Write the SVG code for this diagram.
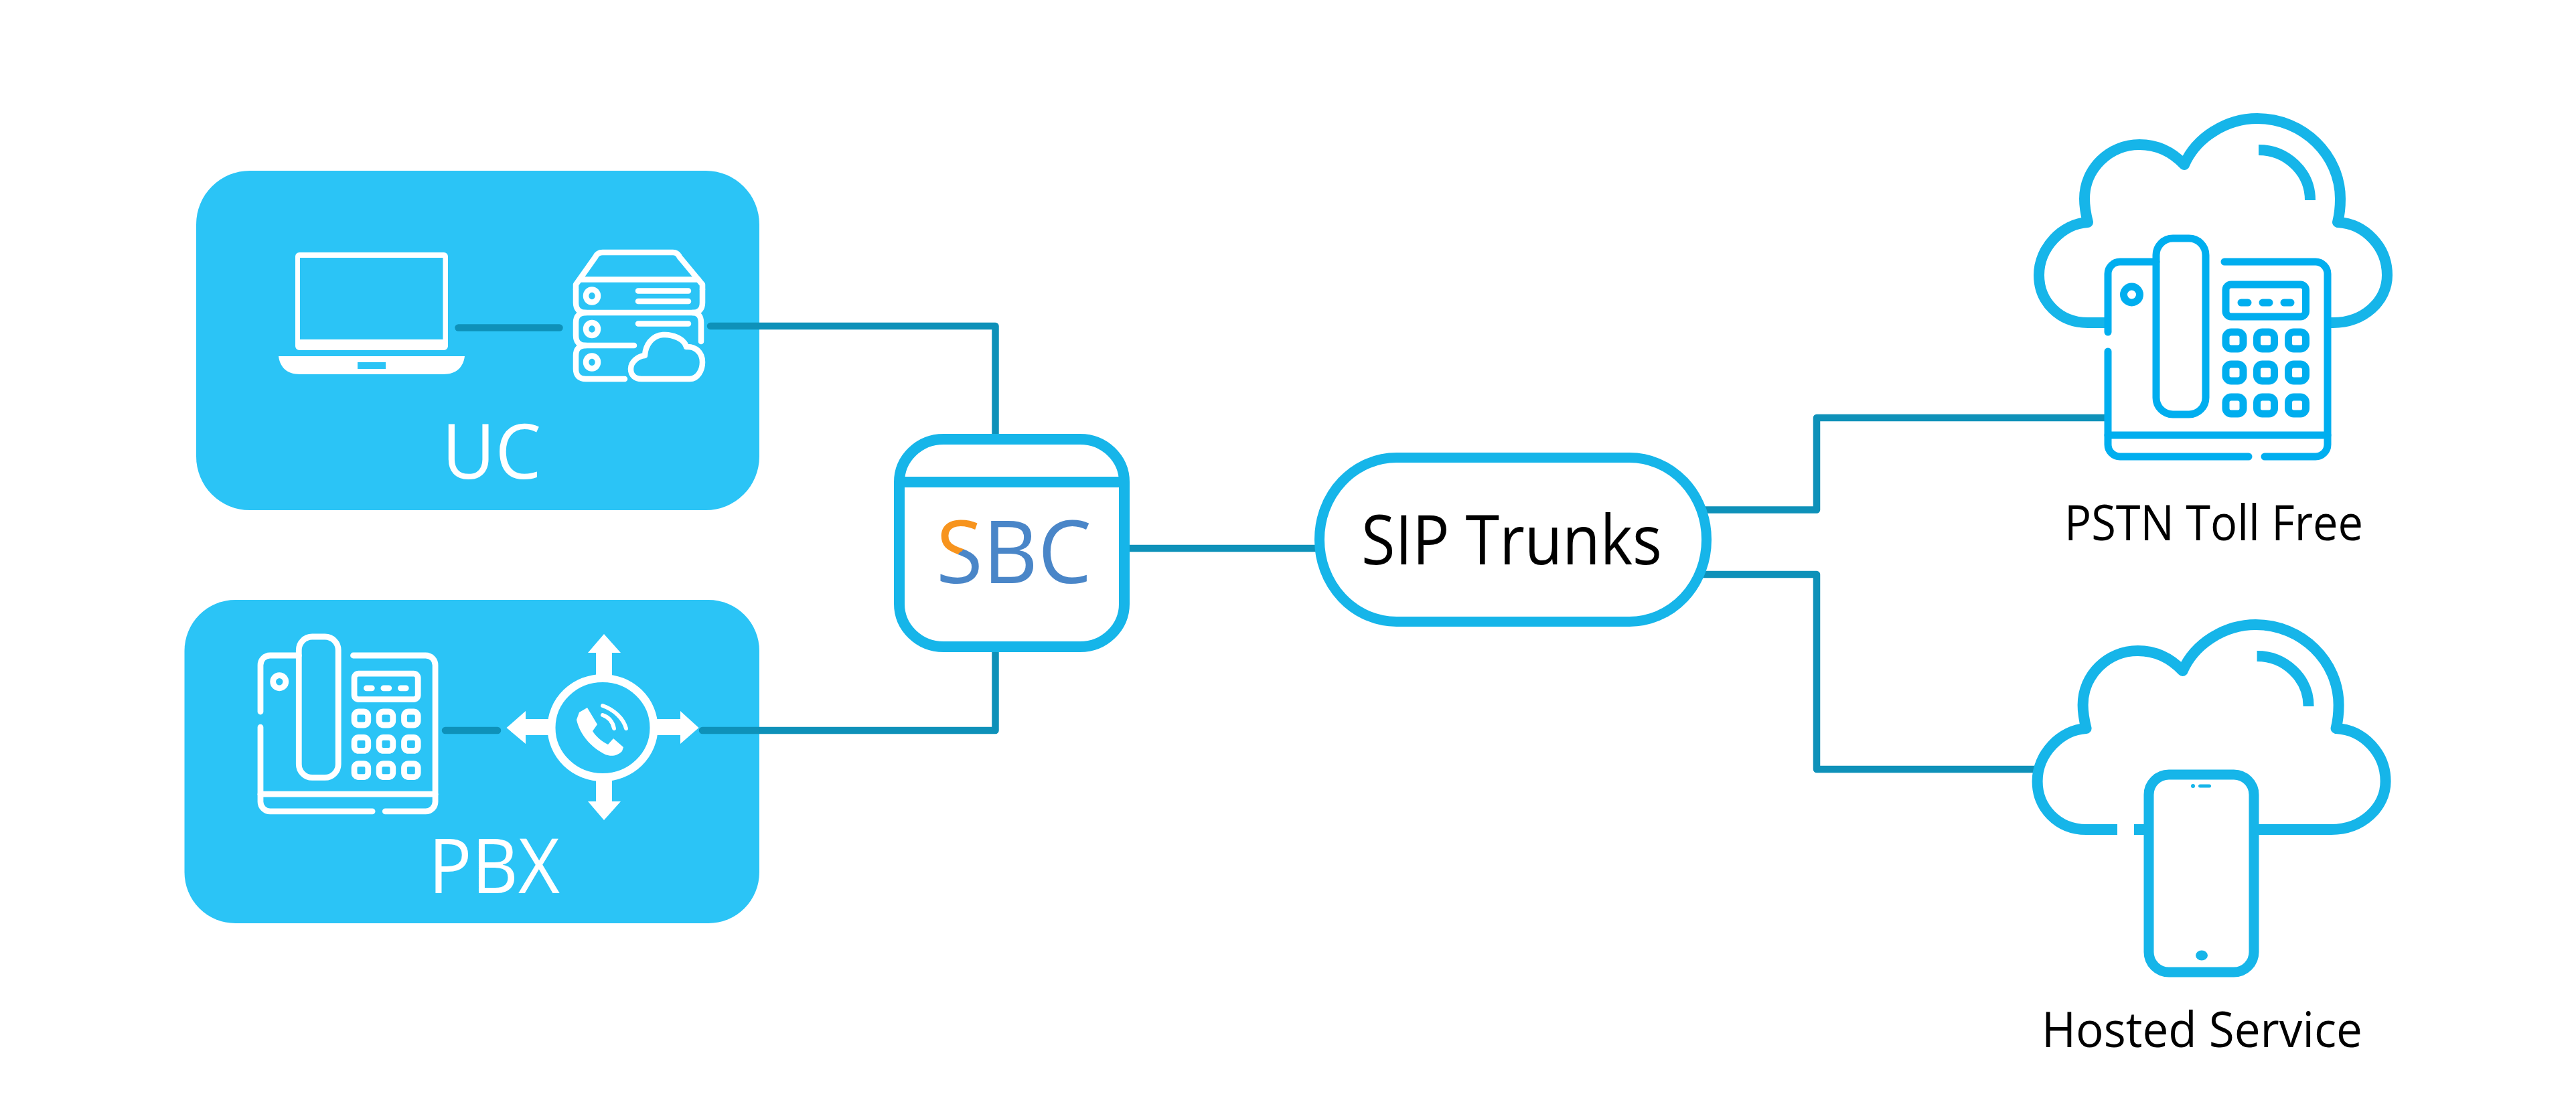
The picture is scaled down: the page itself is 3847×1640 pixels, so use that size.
<svg xmlns="http://www.w3.org/2000/svg" xmlns:xlink="http://www.w3.org/1999/xlink" width="3847" height="1640" viewBox="0 0 3847 1640">
<style>
text{font-family:"Open Sans","Liberation Sans",sans-serif;text-anchor:start}
.box{fill:#2bc4f6}
.wline{fill:none;stroke:#fff;stroke-width:8.500;stroke-linecap:round;stroke-linejoin:round}
.conn{fill:none;stroke:#0e91b9;stroke-width:10.500;stroke-linejoin:round;stroke-linecap:round}
.cloud{fill:none;stroke:#16b5e9;stroke-width:16;stroke-linejoin:round}
.lbl-w{fill:#fff;font-size:113px;font-weight:400}
.lbl-k{fill:#000;font-size:74px}
.dk{fill:#fff;stroke:#16b5e9;stroke-width:16}
</style>
<defs>
<linearGradient id="sgrad" gradientUnits="userSpaceOnUse" x1="1414" y1="800" x2="1456" y2="848">
<stop offset="0.5" stop-color="#f7941e"/><stop offset="0.5" stop-color="#4a86c8"/>
</linearGradient>
<g id="deskphone" fill="none" stroke-linecap="round" stroke-linejoin="round">
<path d="M3220 391H3166a18 18 0 0 0-18 18V496M3148 525V664a18 18 0 0 0 18 18H3358M3382 682H3458a18 18 0 0 0 18-18V409a18 18 0 0 0-18-18H3322"/>
<path d="M3148 650H3476"/>
<rect x="3220" y="356" width="74" height="263" rx="25"/>
<circle cx="3183.500" cy="440" r="12"/>
<rect x="3324" y="425" width="119.500" height="48" rx="8"/>
<path d="M3347 452H3357M3379 452H3389M3411 452H3421"/>
<rect x="3324" y="496" width="26" height="25" rx="8"/><rect x="3370.500" y="496" width="26" height="25" rx="8"/><rect x="3417.500" y="496" width="26" height="25" rx="8"/>
<rect x="3324" y="544" width="26" height="25" rx="8"/><rect x="3370.500" y="544" width="26" height="25" rx="8"/><rect x="3417.500" y="544" width="26" height="25" rx="8"/>
<rect x="3324" y="593" width="26" height="25" rx="8"/><rect x="3370.500" y="593" width="26" height="25" rx="8"/><rect x="3417.500" y="593" width="26" height="25" rx="8"/>
</g>
</defs>
<rect width="3847" height="1640" fill="#fff"/>

<g id="uc">
<rect class="box" x="293" y="255" width="841" height="507" rx="80"/>
<g id="laptop">
<path fill="#fff" fill-rule="evenodd" d="M447 377H663a6 6 0 0 1 6 6V517a6 6 0 0 1-6 6H447a6 6 0 0 1-6-6V383a6 6 0 0 1 6-6ZM448 385V507H661.500V385Z"/>
<path fill="#fff" fill-rule="evenodd" d="M416 532H694C692 548 682 559 662 559H448C428 559 418 548 416 532ZM534 541V551H576V541Z"/>
</g>
<g id="server" class="wline">
<path d="M860 432V425L889 384Q892 377 900 377H1005Q1012 377 1015 384L1049 425V432"/>
<path d="M866 417.500H1043M860 432V452Q860 467 875 467H1034Q1049 467 1049 452V432"/>
<path d="M875 467Q860 467 860 482V501Q860 516 875 516H947M1034 467Q1047 467 1047 482V510"/>
<path d="M875 516Q860 516 860 531V551Q860 566 875 566H933"/>
<ellipse cx="884" cy="442" rx="9" ry="9.500"/><ellipse cx="884" cy="491.500" rx="9" ry="9.500"/><ellipse cx="884" cy="541" rx="9" ry="9.500"/>
<path d="M953 434.500H1028M953 450H1028M953 483.500H1028"/>
<path d="M958 566H1030C1042 566 1049 553 1049 541C1049 526 1038 517 1025 518C1022 506 1004 499 990 500C975 501 964 514 963 531C952 532 942 541 942 551C942 560 948 566 958 566Z"/>
</g>
<text class="lbl-w" x="660" y="715" textLength="148" lengthAdjust="spacingAndGlyphs">UC</text>
</g>

<g id="pbx">
<rect class="box" x="275.500" y="896" width="858.500" height="483" rx="76"/>
<use id="pbx-phone" xlink:href="#deskphone" href="#deskphone" stroke="#fff" stroke-width="11" transform="translate(385 947) scale(.796 .8) translate(-3143 -351)"/>
<g id="pbx-switch">
<ellipse cx="900" cy="1087" rx="76.500" ry="74" fill="none" stroke="#fff" stroke-width="12"/>
<path fill="#fff" d="M902 947L927 975H914V1010H890V975H878ZM902 1225L878 1197H890V1164H914V1197H927ZM756.500 1087L785 1062V1074H820V1098H785V1111ZM1043.500 1087L1016 1062V1074H980V1098H1016V1111Z"/>
<path fill="#fff" d="M865 1064L877 1057L892 1082L885 1092C890 1100 899 1108 908 1112L916 1103L931 1116L929 1122C921 1130 912 1130 904 1127C884 1117 866 1098 861 1075Z"/>
<path d="M900 1054C917 1060 931 1073 935 1088M900 1068C909 1071 915 1078 917 1088" fill="none" stroke="#fff" stroke-width="6" stroke-linecap="round"/>
</g>
<text class="lbl-w" x="640" y="1334" textLength="196" lengthAdjust="spacingAndGlyphs">PBX</text>
</g>

<g id="connectors">
<path class="conn" d="M684.500 489.500H835.500"/>
<path class="conn" d="M665 1091H743"/>
<path class="conn" d="M1061 487H1486.500V660"/>
<path class="conn" d="M1049 1091H1486.500V970"/>
<path class="conn" d="M1680 819H1975"/>
<path class="conn" d="M2535 761.500H2713V624H3146"/>
<path class="conn" d="M2535 858H2713V1149H3045"/>
</g>

<g id="sbc">
<rect class="dk" x="1343" y="656" width="336" height="310" rx="66" ry="64"/>
<path d="M1343 720H1679" stroke="#16b5e9" stroke-width="16"/>
<text x="1398" y="871" font-size="130" fill="#4a86c8" textLength="232" lengthAdjust="spacingAndGlyphs"><tspan fill="url(#sgrad)">S</tspan>BC</text>
</g>

<g id="sip-trunks">
<rect class="dk" style="stroke-width:15" x="1970.500" y="683.500" width="578" height="245" rx="115" ry="122"/>
<text x="2033" y="843" font-size="102" fill="#000" textLength="449" lengthAdjust="spacingAndGlyphs">SIP Trunks</text>
</g>

<g id="pstn">
<path class="cloud" d="M3144 482H3118C3075 482 3045 450 3045 411C3045 370 3080 334 3118 332C3115 320 3113 308 3113 297C3113 252 3150 216 3195 216C3222 216 3245 228 3262 246C3280 205 3325 177 3371 177C3440 177 3495 232 3495 297C3495 310 3494 320 3491 332C3533 334 3565 370 3565 411C3565 450 3530 482 3484 482H3476"/>
<path class="cloud" d="M3373 224C3415 224 3450 257 3450 299"/>
<use id="pstn-phone" xlink:href="#deskphone" href="#deskphone" stroke="#00aeef" stroke-width="11"/>
<text class="lbl-k" x="3083" y="807" textLength="446" lengthAdjust="spacingAndGlyphs">PSTN Toll Free</text>
</g>

<g id="hosted">
<g transform="translate(-2.400 756)">
<path class="cloud" d="M3164.400 483H3118C3075 483 3045 450 3045 411C3045 370 3080 334 3118 332C3115 320 3113 308 3113 297C3113 252 3150 216 3195 216C3222 216 3245 228 3262 246C3280 205 3325 177 3371 177C3440 177 3495 232 3495 297C3495 310 3494 320 3491 332C3533 334 3565 370 3565 411C3565 450 3530 483 3484 483H3372"/>
<path class="cloud" d="M3189.400 483H3208"/>
<path class="cloud" d="M3373 224C3415 224 3450 257 3450 299"/>
</g>
<rect x="3209" y="1157" width="157" height="295" rx="30" fill="none" stroke="#16b5e9" stroke-width="15"/>
<circle cx="3275" cy="1174" r="3" fill="#16b5e9"/>
<path d="M3285.500 1174H3299.500" stroke="#16b5e9" stroke-width="5" stroke-linecap="round"/>
<ellipse cx="3288" cy="1427" rx="9" ry="7.500" fill="#16b5e9"/>
<text class="lbl-k" x="3049" y="1564" textLength="479" lengthAdjust="spacingAndGlyphs">Hosted Service</text>
</g>
</svg>
